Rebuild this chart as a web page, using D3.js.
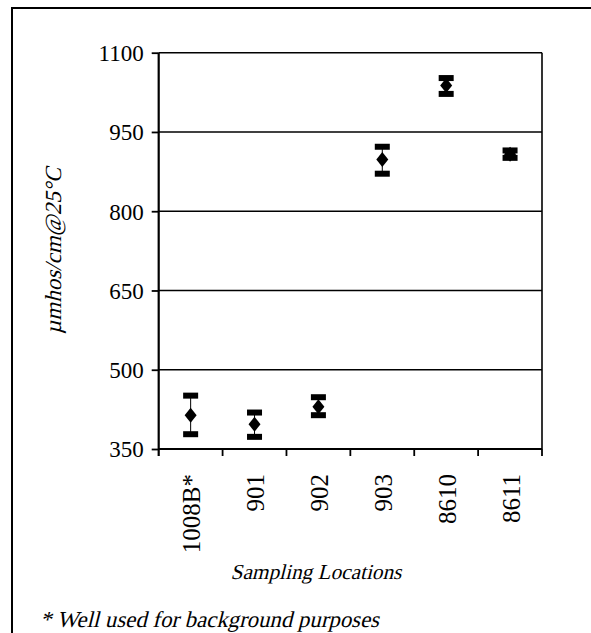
<!DOCTYPE html>
<html>
<head>
<meta charset="utf-8">
<script src="https://cdn.jsdelivr.net/npm/d3@7"></script>
<style>
  body { margin: 0; background: #fff; }
  svg text { font-family: "Liberation Serif", "Times New Roman", serif; fill: #000; }
</style>
</head>
<body>
<div id="chart"></div>
<script>
var locations = ["1008B*", "901", "902", "903", "8610", "8611"];
var meanValues = [414, 397, 430, 898, 1038, 908];
var upperValues = [451, 419, 448, 922, 1052, 915];
var lowerValues = [378, 373, 414, 871, 1022, 901];
var yTicks = [350, 500, 650, 800, 950, 1100];

var data = locations.map(function(d, i) {
    return { loc: d, mean: meanValues[i], hi: upperValues[i], lo: lowerValues[i] };
});

var totalW = 591, totalH = 633;
var margin = {top: 52.7, left: 158.7, right: 49, bottom: 184};
var width = totalW - margin.left - margin.right;
var height = totalH - margin.top - margin.bottom;

var svg = d3.select("#chart").append("svg")
    .attr("width", totalW)
    .attr("height", totalH);

// outer frame (runs off the right and bottom edges)
svg.append("path")
    .attr("d", "M12,640 L12,8 L600,8")
    .attr("fill", "none")
    .attr("stroke", "#000")
    .attr("stroke-width", 2);

var g = svg.append("g")
    .attr("transform", "translate(" + margin.left + "," + margin.top + ")");

var x = d3.scaleBand().domain(locations).range([0, width]);
var y = d3.scaleLinear().domain([350, 1100]).range([height, 0]);

// gridlines
g.selectAll(".grid")
    .data(yTicks.slice(1))
    .enter().append("line")
    .attr("x1", 0).attr("x2", width)
    .attr("y1", function(d) { return y(d); })
    .attr("y2", function(d) { return y(d); })
    .attr("stroke", "#000")
    .attr("stroke-width", 1.6);

// right border
g.append("line")
    .attr("x1", width).attr("x2", width)
    .attr("y1", 0).attr("y2", height)
    .attr("stroke", "#000").attr("stroke-width", 1.6);

// y axis
var yAxis = g.append("g")
    .call(d3.axisLeft(y).tickValues(yTicks).tickFormat(d3.format("d")).tickSize(7).tickPadding(8));
yAxis.attr("font-family", null).attr("font-size", null);
yAxis.select(".domain").attr("d", "M0," + y(1100) + "V" + (height + 7))
    .attr("stroke-width", 2.2);
yAxis.selectAll(".tick line").attr("stroke-width", 1.8);
yAxis.selectAll("text")
    .style("font-size", "23px")
    .attr("dy", "0.34em");

// x axis with ticks at band edges
var xAxis = g.append("g").attr("transform", "translate(0," + height + ")");
xAxis.append("line")
    .attr("x1", 0).attr("x2", width)
    .attr("stroke", "#000").attr("stroke-width", 2.2);
var edges = locations.map(function(d) { return x(d) + x.bandwidth(); });
xAxis.selectAll(".xtick")
    .data(edges)
    .enter().append("line")
    .attr("x1", function(d) { return d; })
    .attr("x2", function(d) { return d; })
    .attr("y1", 0).attr("y2", 7)
    .attr("stroke", "#000").attr("stroke-width", 1.8);
xAxis.selectAll(".xlabel")
    .data(locations)
    .enter().append("text")
    .attr("transform", function(d) {
        return "translate(" + (x(d) + x.bandwidth() / 2 + 1) + ",25) rotate(-90)";
    })
    .attr("text-anchor", "end")
    .attr("dy", "0.34em")
    .style("font-size", "25px")
    .text(function(d) { return d; });

// error bars
var pts = g.selectAll(".pt")
    .data(data)
    .enter().append("g")
    .attr("transform", function(d) { return "translate(" + (x(d.loc) + x.bandwidth() / 2) + ",0)"; });

pts.append("line")
    .attr("y1", function(d) { return y(d.hi); })
    .attr("y2", function(d) { return y(d.lo); })
    .attr("stroke", "#000").attr("stroke-width", 1);

pts.selectAll(".cap")
    .data(function(d) { return [d.hi, d.lo]; })
    .enter().append("rect")
    .attr("x", -7.5).attr("width", 15)
    .attr("y", function(v) { return y(v) - 3; })
    .attr("height", 6)
    .attr("fill", "#000");

pts.append("path")
    .attr("d", function(d) {
        var cy = y(d.mean);
        return "M0," + (cy - 7.5) + "L6," + cy + "L0," + (cy + 7.5) + "L-6," + cy + "Z";
    })
    .attr("fill", "#000");

// axis titles (serif italic faked with a skew, no serif italic face installed)
svg.append("text")
    .attr("transform", "translate(61," + (margin.top + height / 2) + ") rotate(-90) skewX(-14)")
    .attr("text-anchor", "middle")
    .style("font-size", "23px")
    .text("\u00b5mhos/cm@25\u00b0C");

svg.append("text")
    .attr("transform", "translate(316,579) skewX(-14)")
    .attr("text-anchor", "middle")
    .style("font-size", "21.3px")
    .text("Sampling Locations");

svg.append("text")
    .attr("transform", "translate(40,627) skewX(-14)")
    .style("font-size", "22.8px")
    .text("* Well used for background purposes");
</script>
</body>
</html>
